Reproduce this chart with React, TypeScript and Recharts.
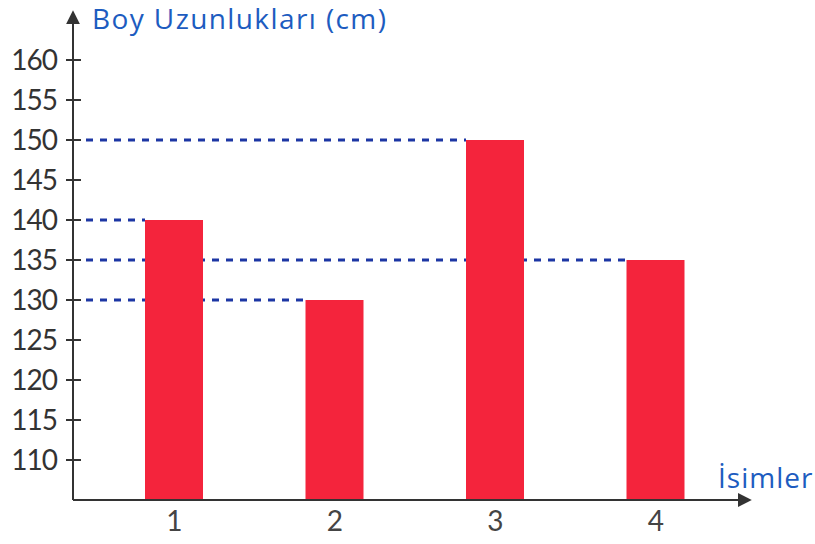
import React from 'react';
import { BarChart, Bar, XAxis, YAxis } from 'recharts';

const names = ['1', '2', '3', '4'];
const heights = [140, 130, 150, 135];
const yTicks = [110, 115, 120, 125, 130, 135, 140, 145, 150, 155, 160];

const AXIS_X = 73;
const INK = '#333333';
const BLUE = '#1d5cc0';
const DASH = '#1c36a4';
const RED = '#f4243c';

const data = names.map((name, i) => ({ name, height: heights[i] }));

// dashed guide from the y axis to the left edge of the bar
const GuideLine = (props: any) => {
  const { x, y } = props;
  return (
    <line x1={AXIS_X + 13} y1={y} x2={x} y2={y} stroke={DASH} strokeWidth={2.8} strokeDasharray="7 7" />
  );
};

const YTick = ({ x, y, payload }: any) => (
  <g>
    <line x1={AXIS_X - 7} x2={AXIS_X + 8} y1={y} y2={y} stroke={INK} strokeWidth={2} />
    <text x={x} y={y} dy={10} textAnchor="end" fill={INK} fontSize={28} fontFamily="Lato" letterSpacing={-1}>
      {payload.value}
    </text>
  </g>
);

export default function App() {
  return (
    <div style={{ position: 'absolute', left: 0, top: 0, width: 815, height: 544, background: '#fff' }}>
      <BarChart width={815} height={544} data={data} margin={{ top: 20, right: 73, bottom: 14, left: 0 }} barGap={-58}>
        <defs>
          <marker id="arrow" viewBox="0 0 10 10" refX="3" refY="5" markerWidth="14" markerHeight="14"
            markerUnits="userSpaceOnUse" orient="auto-start-reverse">
            <path d="M0,0 L10,5 L0,10 z" fill={INK} />
          </marker>
        </defs>
        <XAxis
          dataKey="name"
          height={30}
          padding={{ left: 21, right: 6 }}
          axisLine={{ stroke: INK, strokeWidth: 2, markerEnd: 'url(#arrow)' }}
          tickLine={false}
          tickSize={0}
          tickMargin={11}
          tick={{ fill: '#444', fontSize: 28, fontFamily: 'Lato' }}
        />
        <YAxis
          type="number"
          width={73}
          domain={[105, 165]}
          ticks={yTicks}
          interval={0}
          allowDataOverflow
          axisLine={{ stroke: INK, strokeWidth: 2, markerStart: 'url(#arrow)' }}
          tickLine={false}
          tickSize={8}
          tickMargin={8}
          tick={<YTick />}
        />
        <Bar dataKey="height" barSize={58} shape={GuideLine} isAnimationActive={false} />
        <Bar dataKey="height" barSize={58} fill={RED} isAnimationActive={false} />
        <text x={92} y={29} fill={BLUE} fontSize={28} fontFamily="Open Sans" letterSpacing={1.4}>Boy Uzunlukları (cm)</text>
        <text x={718} y={488} fill={BLUE} fontSize={28} fontFamily="Open Sans" letterSpacing={1}>İsimler</text>
      </BarChart>
    </div>
  );
}
